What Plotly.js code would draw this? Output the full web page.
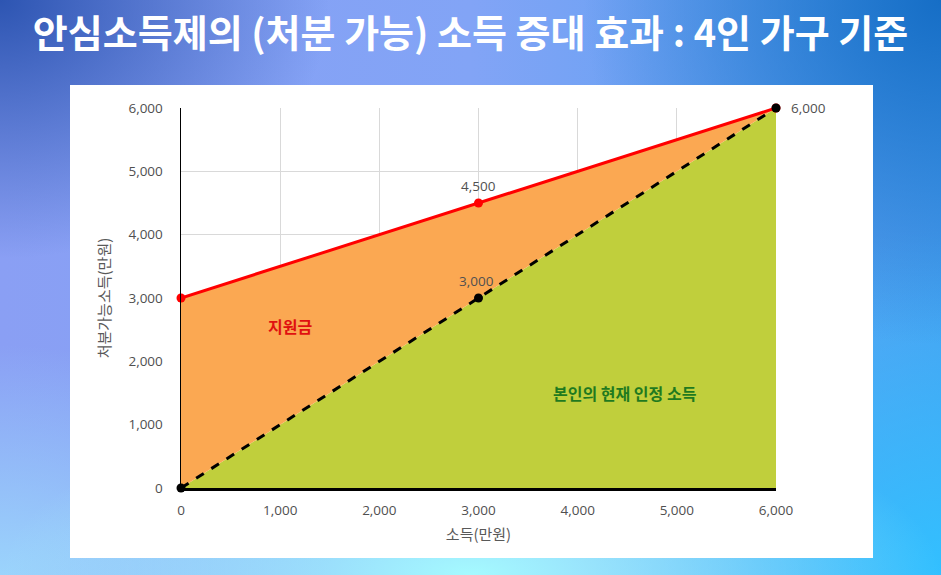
<!DOCTYPE html>
<html>
<head>
<meta charset="utf-8">
<script src="https://cdn.plot.ly/plotly-3.0.1.min.js"></script>
<style>
html,body{margin:0;padding:0;width:941px;height:575px;overflow:hidden;}
body{
  background:
    radial-gradient(ellipse 50% 30% at 50% 100%, rgba(165,250,255,1) 0%, rgba(165,250,255,0) 100%),
    radial-gradient(ellipse 38% 60% at 100% 0%, rgba(22,110,198,1) 0%, rgba(22,110,198,0) 100%),
    radial-gradient(ellipse 38% 60% at 100% 100%, rgba(50,192,255,1) 0%, rgba(50,192,255,0) 100%),
    radial-gradient(ellipse 35% 45% at 0% 0%, rgba(45,85,178,1) 0%, rgba(45,85,178,0) 100%),
    radial-gradient(ellipse 35% 40% at 0% 100%, rgba(155,212,252,1) 0%, rgba(155,212,252,0) 100%),
    linear-gradient(to right, #8a9ff4 0%, #82a4f6 50%, #4c9ff0 100%);
}
#chart{width:941px;height:575px;}
</style>
</head>
<body>
<div id="chart"></div>
<script>
// Data
const income = [0, 3000, 6000];
const disposableIncome = [3000, 4500, 6000];
const ownIncome = [0, 3000, 6000];
const tickVals = [0, 1000, 2000, 3000, 4000, 5000, 6000];

const fillGreen = {
  x: income, y: ownIncome, type: 'scatter', mode: 'none',
  fill: 'tozeroy', fillcolor: '#c0cf3c', hoverinfo: 'skip', showlegend: false
};
const fillOrange = {
  x: income, y: disposableIncome, type: 'scatter', mode: 'none',
  fill: 'tonexty', fillcolor: '#fba852', hoverinfo: 'skip', showlegend: false
};
const redLine = {
  x: income, y: disposableIncome, type: 'scatter', mode: 'lines+markers',
  line: {color: '#ff0000', width: 3},
  marker: {color: '#ff0000', size: 9},
  cliponaxis: false, showlegend: false
};
const blackLine = {
  x: income, y: ownIncome, type: 'scatter', mode: 'lines+markers',
  line: {color: '#000000', width: 3, dash: 'dash'},
  marker: {color: '#000000', size: 9},
  cliponaxis: false, showlegend: false
};

const labelFont = {family: 'Open Sans, "Noto Sans CJK KR", sans-serif', size: 13.5, color: '#505050'};

const layout = {
  width: 941, height: 575,
  margin: {l: 181, r: 165, t: 108, b: 87},
  paper_bgcolor: 'rgba(0,0,0,0)',
  plot_bgcolor: 'rgba(0,0,0,0)',
  title: {
    text: '안심소득제의 (처분 가능) 소득 증대 효과 : 4인 가구 기준',
    font: {family: '"Noto Sans CJK KR", sans-serif', size: 38, color: '#ffffff', weight: 'bold'},
    xref: 'container', x: 0.5, xanchor: 'center',
    yref: 'container', y: 1 - 34/575, yanchor: 'middle'
  },
  xaxis: {
    range: [0, 6000], tickvals: tickVals, tickformat: ',d',
    showgrid: true, gridcolor: '#d9d9d9', gridwidth: 1,
    zeroline: false, showline: true, linecolor: '#000000', linewidth: 3,
    ticks: 'outside', ticklen: 8, tickcolor: 'rgba(0,0,0,0)',
    tickfont: labelFont,
    title: {text: '소득(만원)', font: {family: '"Noto Sans CJK KR", sans-serif', size: 15, color: '#595959'}, standoff: 12}
  },
  yaxis: {
    range: [0, 6000], tickvals: tickVals, tickformat: ',d',
    showgrid: true, gridcolor: '#d9d9d9', gridwidth: 1,
    zeroline: false, showline: true, linecolor: '#000000', linewidth: 1.5,
    ticks: 'outside', ticklen: 14, tickcolor: 'rgba(0,0,0,0)',
    tickfont: labelFont,
    title: {text: '처분가능소득(만원)', font: {family: '"Noto Sans CJK KR", sans-serif', size: 15, color: '#595959'}, standoff: 14}
  },
  shapes: [{
    type: 'rect', xref: 'paper', yref: 'paper', layer: 'below',
    x0: (70-181)/595, x1: (873-181)/595, y0: (488-558)/380, y1: (488-85)/380,
    fillcolor: '#ffffff', line: {width: 0}
  }],
  annotations: [
    {x: income[1], y: disposableIncome[1], text: '4,500', showarrow: false, yanchor: 'bottom', yshift: 6, font: labelFont},
    {x: income[1], y: ownIncome[1], text: '3,000', showarrow: false, yanchor: 'bottom', yshift: 6, xshift: -2, font: labelFont},
    {x: income[2], y: ownIncome[2], text: '6,000', showarrow: false, xanchor: 'left', xshift: 13, font: labelFont},
    {x: 1100, y: 2560, text: '<b>지원금</b>', showarrow: false, font: {family: '"Noto Sans CJK KR", sans-serif', size: 16, color: '#e01010'}},
    {x: 4480, y: 1500, text: '<b>본인의 현재 인정 소득</b>', showarrow: false, font: {family: '"Noto Sans CJK KR", sans-serif', size: 16, color: '#1f7a1f'}}
  ]
};

Plotly.newPlot('chart', [fillGreen, fillOrange, redLine, blackLine], layout, {displayModeBar: false, staticPlot: true});
</script>
</body>
</html>
